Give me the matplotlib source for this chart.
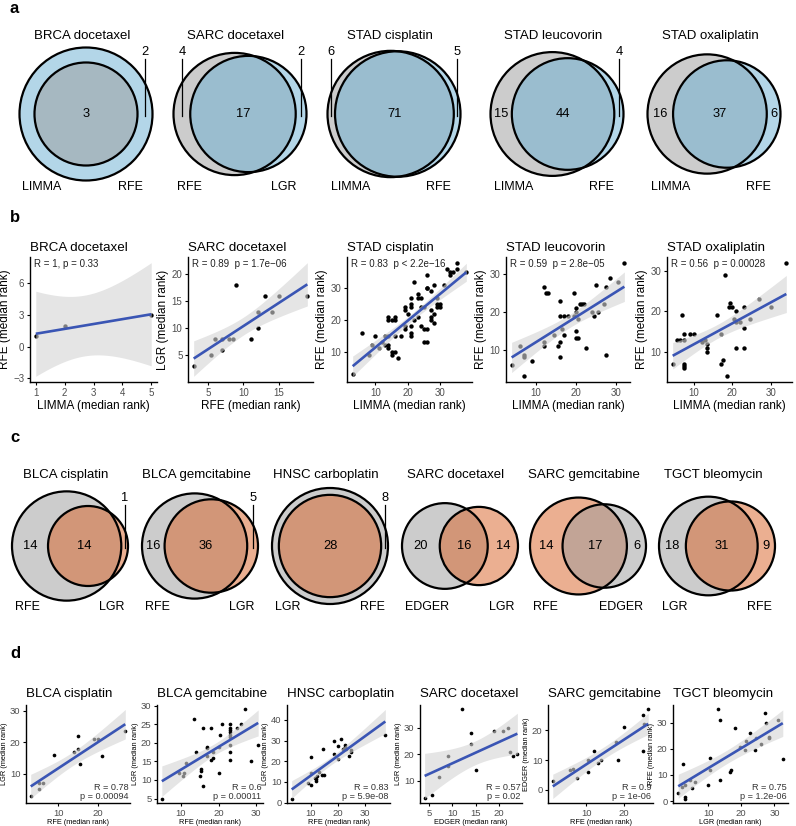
import math
import numpy as np
import matplotlib
matplotlib.use("Agg")
import matplotlib.pyplot as plt
from matplotlib.patches import Circle

plt.rcParams['font.family'] = ['Liberation Sans', 'DejaVu Sans']

W, H = 796, 826

# ---------------- data ----------------
# panel a: venn counts (left only, both, right only)
venn_a_titles = ['BRCA docetaxel', 'SARC docetaxel', 'STAD cisplatin', 'STAD leucovorin', 'STAD oxaliplatin']
venn_a_names = [('LIMMA', 'RFE'), ('RFE', 'LGR'), ('LIMMA', 'RFE'), ('LIMMA', 'RFE'), ('LIMMA', 'RFE')]
venn_a_counts = [(0, 3, 2), (4, 17, 2), (6, 71, 5), (15, 44, 4), (16, 37, 6)]
venn_a_leader = [(False, False, True), (True, False, True), (True, False, True),
                 (False, False, True), (False, False, False)]

# panel c
venn_c_titles = ['BLCA cisplatin', 'BLCA gemcitabine', 'HNSC carboplatin',
                 'SARC docetaxel', 'SARC gemcitabine', 'TGCT bleomycin']
venn_c_names = [('RFE', 'LGR'), ('RFE', 'LGR'), ('LGR', 'RFE'),
                ('EDGER', 'LGR'), ('RFE', 'EDGER'), ('LGR', 'RFE')]
venn_c_counts = [(14, 14, 1), (16, 36, 5), (0, 28, 8), (20, 16, 14), (14, 17, 6), (18, 31, 9)]
venn_c_leader = [(False, False, True), (False, False, True), (False, False, True),
                 (False, False, False), (False, False, False), (False, False, False)]
venn_c_fill = [('gray', 'orange'), ('gray', 'orange'), ('orange', 'gray'),
               ('gray', 'orange'), ('orange', 'gray'), ('gray', 'orange')]

# panel b: median ranks
brca_doc_x = [1, 2, 5]
brca_doc_y = [1, 2, 3]
sarc_doc_x = [3, 5.5, 6, 7, 7, 8, 8.5, 9, 11, 12, 12, 13, 14, 15, 19]
sarc_doc_y = [3, 5, 8, 6, 8, 8, 8, 18, 8, 10, 13, 16, 13, 16, 16]
stad_cis_x = [3, 6, 9, 8, 10, 13, 14, 14, 15, 16, 16, 13, 14, 14, 15, 15, 16, 14, 16, 18,
              19, 19, 19, 19, 21, 21, 22, 22, 23, 23, 24, 24, 25, 25, 25, 26, 26, 27, 27, 27,
              28, 35, 32, 33, 33, 34, 35, 38, 26, 31, 29, 29, 29, 21, 21, 21, 23, 30, 30, 24,
              28, 27, 28, 26, 26, 21, 20, 12, 11, 17]
stad_cis_y = [3, 16, 12, 9, 15, 15, 21, 20, 20, 21, 20, 12, 12, 11, 10, 9, 10, 15, 15, 15,
              18, 17, 24, 23, 16, 15, 32, 20, 21, 28, 27, 18, 17, 24, 13, 34, 30, 29, 23, 21,
              31, 38, 36, 35, 34, 35, 36, 35, 30, 31, 27, 25, 24, 27, 25, 24, 27, 25, 24, 24,
              22, 20, 19, 17, 13, 18, 22, 13, 11, 8]
stad_leu_x = [4, 6, 7, 7, 7, 9, 12, 12.5, 13, 12, 12, 14.5, 15.5, 16, 16, 17, 18, 16, 16, 16.5,
              17, 19.5, 20, 20, 20, 20, 20.5, 19.5, 20.5, 21.5, 22, 21, 22.5, 24, 24.5, 25.5,
              25, 27, 27.5, 27.5, 28.5, 30.5, 32]
stad_leu_y = [6, 11, 8, 8.5, 3, 7, 26.5, 25, 25, 12, 11, 14, 11, 23, 19, 19, 19, 12, 8, 15.5,
              14, 25, 21, 20, 15, 13, 13, 19, 18, 22, 22, 22, 10.5, 20, 19, 20, 27, 22, 8.5,
              26.5, 29, 28, 33]
stad_oxa_x = [4.5, 5.5, 6.5, 7.5, 7, 7.5, 7.5, 7.5, 7.5, 9, 10, 12, 13, 13.5, 13.5, 13.5, 16, 17,
              17, 17.5, 18, 18.5, 19, 19.5, 20, 21, 20.5, 21, 22, 21, 23, 23, 23, 24.5, 27, 30, 34]
stad_oxa_y = [7, 13, 13, 13, 19, 14.5, 7, 6.5, 6, 14.5, 14.5, 12.5, 13, 12, 11, 10, 19, 14.5,
              7, 8, 29, 4, 21, 22, 21, 20, 18, 17.5, 17.5, 11, 21, 16, 11, 18, 23, 21, 32]

# panel d
blca_cis_x = [3, 5, 5, 6, 9, 14, 15, 15, 15.5, 19, 20, 21, 27]
blca_cis_y = [3, 5, 7, 7, 16, 17, 22, 18, 13, 21, 21, 15.5, 23.5]
blca_gem_x = [5, 9.5, 10.5, 11, 11.5, 13.5, 14, 15, 15.5, 15.5, 16, 16, 17, 17, 17, 18, 18, 18.5,
              18.5, 20, 20, 20.5, 21, 23, 23, 23, 23, 23, 23, 23, 23, 23, 25, 26, 27, 28.5, 30.5]
blca_gem_y = [5, 12, 11, 12, 14.5, 26.5, 17.5, 11, 12.5, 13, 24, 8.5, 19, 18.5, 16.5, 24, 15.5,
              16, 17.5, 12, 19, 22, 25, 25, 24, 23.5, 23, 22, 21.5, 19.5, 17.5, 15.5, 24, 25, 29,
              15, 19.5]
hnsc_car_x = [3, 9, 10, 10, 10, 11.5, 12, 12, 12.5, 13, 14, 14.5, 15, 18.5, 18.5, 20, 20, 21, 22,
              22.5, 22.5, 23, 24, 25, 25, 37.5]
hnsc_car_y = [2, 9.5, 8.5, 22, 14.5, 12, 11.5, 10.5, 13, 15, 13.5, 26, 13.5, 30, 23.5, 27.5, 21,
              31, 26, 28, 27, 26, 22.5, 25.5, 24.5, 32.5]
sarc_doc2_x = [4, 5.5, 7, 9, 9, 12, 14, 14, 15, 19, 21, 22, 22.5, 23, 24]
sarc_doc2_y = [3.5, 4.5, 11.5, 19.5, 15.5, 37, 28, 24, 14, 29, 29, 30, 21, 19.5, 20]
sarc_gem_x = [1, 5.5, 6.5, 7.5, 10.5, 10.5, 12, 13, 14, 18, 18.5, 20, 25, 25, 25.5, 26.5]
sarc_gem_y = [3, 6.5, 7, 4, 10, 6, 13, 9, 10, 16, 10, 21, 13, 25, 22, 27]
tgct_bleo_x = [1, 2, 2.5, 3, 3, 3, 4.5, 6, 5, 10.5, 10.5, 10, 13, 13.5, 13.5, 16.5, 17, 18, 19.5,
               21, 21.5, 22.5, 24, 24.5, 26, 27, 27.5, 28.5, 28.5, 31, 32.5]
tgct_bleo_y = [3, 5.5, 14, 6, 1, 1.5, 8, 7.5, 5, 16.5, 12, 6, 35, 31, 8, 11, 12, 28, 20.5, 19.5,
               23, 26, 19.5, 24, 22, 33.5, 30, 24.5, 24, 31, 16]

b_titles = ['BRCA docetaxel', 'SARC docetaxel', 'STAD cisplatin', 'STAD leucovorin', 'STAD oxaliplatin']
b_xlabels = ['LIMMA (median rank)', 'RFE (median rank)', 'LIMMA (median rank)',
             'LIMMA (median rank)', 'LIMMA (median rank)']
b_ylabels = ['RFE (median rank)', 'LGR (median rank)', 'RFE (median rank)',
             'RFE (median rank)', 'RFE (median rank)']
b_stats = ['R = 1, p = 0.33', 'R = 0.89  p = 1.7e\u221206', 'R = 0.83  p < 2.2e\u221216',
           'R = 0.59  p = 2.8e\u221205', 'R = 0.56  p = 0.00028']
b_xticks = [[1, 2, 3, 4, 5], [5, 10, 15], [10, 20, 30], [10, 20, 30], [10, 20, 30]]
b_yticks = [[-3, 0, 3, 6], [5, 10, 15, 20], [10, 20, 30], [10, 20, 30], [10, 20, 30]]

d_titles = ['BLCA cisplatin', 'BLCA gemcitabine', 'HNSC carboplatin',
            'SARC docetaxel', 'SARC gemcitabine', 'TGCT bleomycin']
d_xlabels = ['RFE (median rank)', 'RFE (median rank)', 'RFE (median rank)',
             'EDGER (median rank)', 'RFE (median rank)', 'LGR (median rank)']
d_ylabels = ['LGR (median rank)', 'LGR (median rank)', 'LGR (median rank)',
             'LGR (median rank)', 'EDGER (median rank)', 'RFE (median rank)']
d_stats = [('R = 0.78', 'p = 0.00094'), ('R = 0.6', 'p = 0.00011'), ('R = 0.83', 'p = 5.9e-08'),
           ('R = 0.57', 'p = 0.02'), ('R = 0.9', 'p = 1e-06'), ('R = 0.75', 'p = 1.2e-06')]
d_xticks = [[10, 20], [10, 20, 30], [10, 20, 30], [5, 10, 15, 20], [10, 20], [10, 20, 30]]
d_yticks = [[10, 20, 30], [5, 10, 15, 20, 25, 30], [0, 10, 20, 30, 40], [10, 20, 30],
            [0, 10, 20], [0, 10, 20, 30]]

# ---------------- helpers ----------------
fill_colors = {'gray': '#9b9b9b', 'blue': '#69afd3', 'orange': '#d96125'}
LINE_BLUE = '#3a55b4'

fig = plt.figure(figsize=(W / 100, H / 100), dpi=100)


def axes_px(left, top, right, bottom):
    return fig.add_axes([left / W, 1 - bottom / H, (right - left) / W, (bottom - top) / H])


def t_quantile(df, q=0.975):
    grid = np.linspace(0, 80, 400001)
    logc = math.lgamma((df + 1) / 2) - math.lgamma(df / 2) - 0.5 * math.log(df * math.pi)
    pdf = np.exp(logc - (df + 1) / 2 * np.log1p(grid ** 2 / df))
    cdf = 0.5 + np.concatenate([[0], np.cumsum((pdf[1:] + pdf[:-1]) / 2 * np.diff(grid))])
    return np.interp(q, cdf, grid)


def fit_band(x, y, n=80):
    b, a = np.polyfit(x, y, 1)
    xs = np.linspace(x.min(), x.max(), n)
    df = len(x) - 2
    s = np.sqrt(np.sum((y - (a + b * x)) ** 2) / df)
    se = s * np.sqrt(1 / len(x) + (xs - x.mean()) ** 2 / np.sum((x - x.mean()) ** 2))
    t = t_quantile(df)
    fit = a + b * xs
    return xs, fit, fit - t * se, fit + t * se


def lens_area(r1, r2, d):
    if d >= r1 + r2:
        return 0.0
    if d <= abs(r1 - r2):
        return math.pi * min(r1, r2) ** 2
    a1 = r1 ** 2 * math.acos((d * d + r1 * r1 - r2 * r2) / (2 * d * r1))
    a2 = r2 ** 2 * math.acos((d * d + r2 * r2 - r1 * r1) / (2 * d * r2))
    a3 = 0.5 * math.sqrt((-d + r1 + r2) * (d + r1 - r2) * (d - r1 + r2) * (d + r1 + r2))
    return a1 + a2 - a3


def venn_geometry(only1, both, only2):
    n1, n2 = only1 + both, only2 + both
    r1, r2 = math.sqrt(n1 / math.pi), math.sqrt(n2 / math.pi)
    if only1 == 0 or only2 == 0:
        return r1, r2, 0.0
    lo, hi = abs(r1 - r2), r1 + r2
    for _ in range(80):
        mid = (lo + hi) / 2
        if lens_area(r1, r2, mid) > both:
            lo = mid
        else:
            hi = mid
    return r1, r2, (lo + hi) / 2


def draw_venn(cx, cy, width, title, names, counts, fills, leader, title_y, label_y,
              leader_y, inset):
    only1, both, only2 = counts
    r1, r2, d = venn_geometry(only1, both, only2)
    xmin, xmax = min(-r1, d - r2), max(r1, d + r2)
    scale = (xmax - xmin) / width
    ax = axes_px(cx - width / 2, cy - width / 2, cx + width / 2, cy + width / 2)
    ax.set_xlim(xmin, xmax)
    ax.set_ylim(-(xmax - xmin) / 2, (xmax - xmin) / 2)
    ax.axis('off')

    def ydat(ypx):
        return (cy - ypx) * scale

    circles = [((0, 0), r1, fill_colors[fills[0]]), ((d, 0), r2, fill_colors[fills[1]])]
    for i in sorted(range(2), key=lambda k: -circles[k][1]):
        c, r, col = circles[i]
        ax.add_patch(Circle(c, r, fc=col, ec='none', alpha=0.5, clip_on=False))
    for c, r, col in circles:
        ax.add_patch(Circle(c, r, fill=False, ec='black', lw=1.6, clip_on=False))

    if d == 0:
        pos = [None, 0.0, (r1 + r2) / 2]
    else:
        pos = [(-r1 + d - r2) / 2, (d - r2 + r1) / 2, (r1 + d + r2) / 2]
    for k in range(3):
        if counts[k] == 0 or pos[k] is None:
            continue
        if leader[k]:
            ax.plot([pos[k], pos[k]], [ydat(leader_y + 7), ydat(cy + 2)], color='black',
                    lw=0.9, clip_on=False)
            ax.text(pos[k], ydat(leader_y), str(counts[k]), ha='center', va='center',
                    fontsize=9.3, clip_on=False)
        else:
            ax.text(pos[k], 0, str(counts[k]), ha='center', va='center', fontsize=9.3)

    ax.text((xmin + xmax) / 2 - 4 * scale, ydat(title_y), title, ha='center', va='center',
            fontsize=9.5, clip_on=False)
    ax.text(xmin + inset[0] * scale, ydat(label_y), names[0], ha='left', va='center',
            fontsize=9, clip_on=False)
    ax.text(xmax - inset[1] * scale, ydat(label_y), names[1], ha='right', va='center',
            fontsize=9, clip_on=False)


def scatter_panel(box, x, y, title, xlab, ylab, xticks, yticks, row):
    ax = axes_px(*box)
    x = np.asarray(x, float)
    y = np.asarray(y, float)
    xs, fit, lo, hi = fit_band(x, y)
    small = row == 'd'
    ax.scatter(x, y, s=7 if small else 10, c='black', lw=0, zorder=1)
    ax.fill_between(xs, lo, hi, color='#d4d4d4', alpha=0.6, lw=0, zorder=2)
    ax.plot(xs, fit, color=LINE_BLUE, lw=1.9, zorder=3, solid_capstyle='butt')
    rx = x.max() - x.min()
    ax.set_xlim(x.min() - 0.05 * rx, x.max() + 0.05 * rx)
    ylo, yhi = min(y.min(), lo.min()), max(y.max(), hi.max())
    ry = yhi - ylo
    ax.set_ylim(ylo - 0.05 * ry, yhi + 0.05 * ry)
    ax.set_xticks(xticks)
    ax.set_yticks(yticks)
    for s in ['top', 'right']:
        ax.spines[s].set_visible(False)
    for s in ['left', 'bottom']:
        ax.spines[s].set_linewidth(1.0)
    ax.tick_params(length=2.5, width=0.8, pad=1.5, labelsize=6.8 if small else 7,
                   labelcolor='#4d4d4d')
    ax.set_title(title, loc='left', fontsize=9.6, pad=6 if small else 4)
    ax.set_xlabel(xlab, fontsize=5.3 if small else 8.5, labelpad=1 if small else 2)
    ax.set_ylabel(ylab, fontsize=5.3 if small else 8.5, labelpad=1 if small else 2)
    return ax


# ---------------- panel a ----------------
a_centers = [86, 240, 394, 557, 714]
for i in range(5):
    draw_venn(a_centers[i], 114, 133, venn_a_titles[i], venn_a_names[i], venn_a_counts[i],
              ('gray', 'blue'), venn_a_leader[i], 36, 187, 52, (3, 10))

# ---------------- panel b ----------------
b_boxes = [(30, 257, 157, 382), (188, 257, 313, 382), (347, 257, 472, 382),
           (506, 257, 630, 382), (667, 257, 792, 382)]
b_x = [brca_doc_x, sarc_doc_x, stad_cis_x, stad_leu_x, stad_oxa_x]
b_y = [brca_doc_y, sarc_doc_y, stad_cis_y, stad_leu_y, stad_oxa_y]
for i in range(5):
    ax = scatter_panel(b_boxes[i], b_x[i], b_y[i], b_titles[i], b_xlabels[i], b_ylabels[i],
                       b_xticks[i], b_yticks[i], 'b')
    ax.text(0.03, 0.985, b_stats[i], transform=ax.transAxes, ha='left', va='top',
            fontsize=7, color='#222222', zorder=5)

# ---------------- panel c ----------------
c_centers = [70, 200, 330, 460, 588, 717]
for i in range(6):
    draw_venn(c_centers[i], 546, 116, venn_c_titles[i], venn_c_names[i], venn_c_counts[i],
              venn_c_fill[i], venn_c_leader[i], 475, 607, 498, (3, 3))

# ---------------- panel d ----------------
d_boxes = [(26, 705, 130, 803), (157, 705, 263, 803), (287, 705, 390, 803),
           (420, 705, 522, 803), (548, 705, 653, 803), (673, 705, 788, 803)]
d_x = [blca_cis_x, blca_gem_x, hnsc_car_x, sarc_doc2_x, sarc_gem_x, tgct_bleo_x]
d_y = [blca_cis_y, blca_gem_y, hnsc_car_y, sarc_doc2_y, sarc_gem_y, tgct_bleo_y]
for i in range(6):
    ax = scatter_panel(d_boxes[i], d_x[i], d_y[i], d_titles[i], d_xlabels[i], d_ylabels[i],
                       d_xticks[i], d_yticks[i], 'd')
    ax.text(0.985, 0.02, d_stats[i][0] + '\n' + d_stats[i][1], transform=ax.transAxes,
            ha='right', va='bottom', multialignment='right', fontsize=6.6, color='#333333',
            linespacing=1.05, zorder=5)

# panel letters
for letter, ypx in [('a', 13), ('b', 222), ('c', 442), ('d', 658)]:
    fig.text(10 / W, 1 - ypx / H, letter, fontsize=12, fontweight='bold', va='baseline')

fig.savefig('out.png', dpi=100)
